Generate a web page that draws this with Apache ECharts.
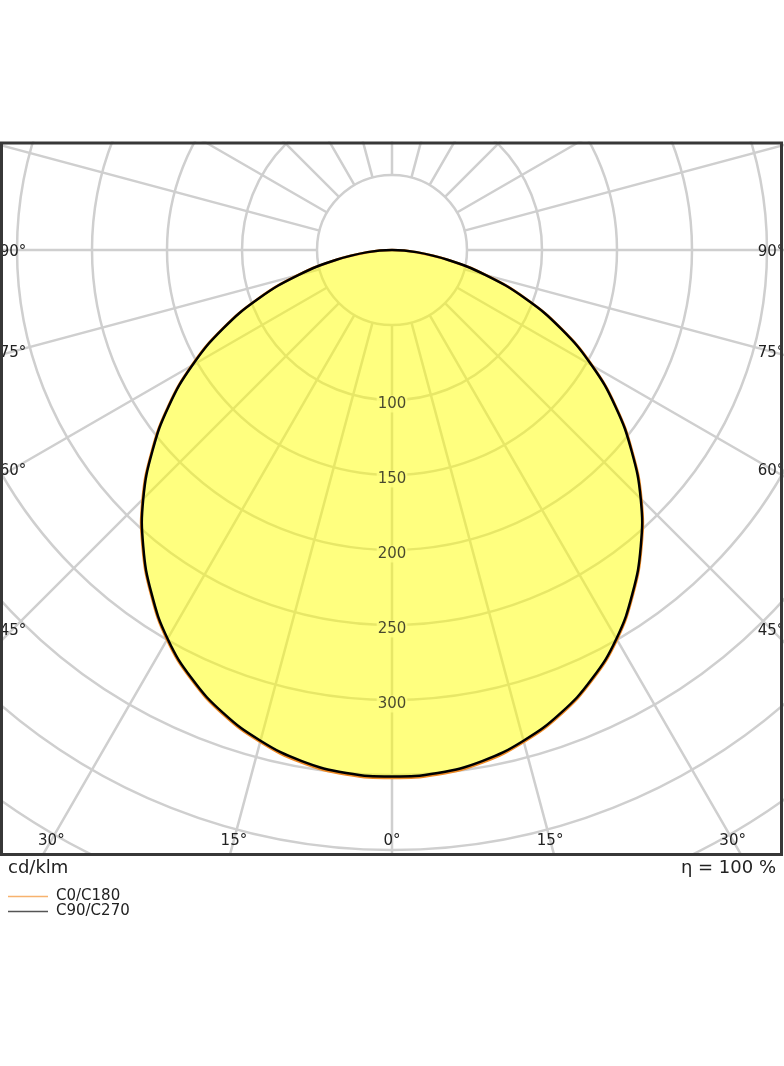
<!DOCTYPE html>
<html>
<head>
<meta charset="utf-8">
<script src="https://cdn.jsdelivr.net/npm/echarts@6/dist/echarts.min.js"></script>
<style>
html,body{margin:0;padding:0;background:#fff;}
#chart{width:784px;height:1066px;}
</style>
</head>
<body>
<div id="chart"></div>
<script>
// ---- data (cd/klm) ----
var gammaAngles = [0,5,10,15,20,25,30,35,40,45,50,55,60,65,70,75,80,85,90];
var c0c180  = [352,351,347,339.5,329.4,316.2,300,280.2,258.7,235.2,209.2,182.4,154.3,125,95,65,38,16.5,0];
var c90c270 = [351,350,346,338.7,328.6,315.4,299.2,279.5,258,234.5,208.5,181.8,153.7,124.5,94.6,64.7,37.6,16.3,0];
var ringLabels = [100,150,200,250,300];
var sideAngleLabels = [90,75,60,45];
var bottomAngleLabels = [30,15,0];
var seriesNames = ['C0/C180','C90/C270'];
var unitText = 'cd/klm';
var effText = '\u03b7 = 100 %';

var CX = 392, CY = 250, PX_PER_UNIT = 1.5, RMAX = 500;
var FONT = 'DejaVu Sans';

// full curve (-90..90) as [radius, angle] pairs; 90 deg (r = 0) only once
function toPolarData(vals){
  var out = [];
  for (var i = gammaAngles.length-2; i > 0; i--) out.push([vals[i], 360 - gammaAngles[i]]);
  for (var j = 0; j < gammaAngles.length; j++) out.push([vals[j], gammaAngles[j]]);
  return out;
}

function curveRenderer(vals, style){
  var pts = toPolarData(vals);
  return function(params, api){
    if (params.dataIndex !== 0) return null;
    var px = pts.map(function(p){ return api.coord(p); });
    return {type:'polygon', shape:{points:px, smooth:0.45}, style:style};
  };
}

var chart = echarts.init(document.getElementById('chart'), null, {renderer:'canvas'});

var graphics = [
  {type:'rect', z:50, shape:{x:0,y:0,width:784,height:141.5}, style:{fill:'#fff'}, silent:true},
  {type:'rect', z:50, shape:{x:0,y:856,width:784,height:210}, style:{fill:'#fff'}, silent:true},
  {type:'rect', z:60, shape:{x:1.5,y:143,width:780,height:711.5}, style:{fill:null, stroke:'#383838', lineWidth:3}, silent:true},
  {type:'text', z:55, left:8, top:859, style:{text:unitText, font:'18px "'+FONT+'"', fill:'#222'}},
  {type:'text', z:55, right:8, top:859, style:{text:effText, font:'18px "'+FONT+'"', fill:'#222'}}
];
// angle labels along the frame (where spokes meet the frame)
sideAngleLabels.forEach(function(a){
  var dy = a === 90 ? 0 : 379 / Math.tan(a*Math.PI/180);
  [-1,1].forEach(function(s){
    graphics.push({type:'text', z:55, x: CX + s*379, y: CY + dy + 2,
      style:{text:a+'\u00b0', font:'15px "'+FONT+'"', fill:'#222', textAlign:'center', textVerticalAlign:'middle'}});
  });
});
bottomAngleLabels.forEach(function(a){
  var dx = 590 * Math.tan(a*Math.PI/180);
  (a === 0 ? [1] : [-1,1]).forEach(function(s){
    graphics.push({type:'text', z:55, x: CX + s*dx, y: 841,
      style:{text:a+'\u00b0', font:'15px "'+FONT+'"', fill:'#222', textAlign:'center', textVerticalAlign:'middle'}});
  });
});

var option = {
  animation:false,
  backgroundColor:'#fff',
  polar:[
    {center:[CX,CY], radius:[75, RMAX*PX_PER_UNIT]},
    {center:[CX,CY], radius:[0, RMAX*PX_PER_UNIT]}
  ],
  angleAxis:[
    {polarIndex:0, type:'value', min:0, max:360, interval:15, startAngle:270, clockwise:true,
     axisLine:{show:false}, axisTick:{show:false}, axisLabel:{show:false},
     splitLine:{show:true, lineStyle:{color:'#cfcfcf', width:2.5}}},
    {polarIndex:1, type:'value', min:0, max:360, interval:15, startAngle:270, clockwise:true,
     axisLine:{show:false}, axisTick:{show:false}, axisLabel:{show:false}, splitLine:{show:false}}
  ],
  radiusAxis:[
    {polarIndex:0, type:'value', min:50, max:RMAX, interval:50,
     axisLine:{show:false}, axisTick:{show:false}, axisLabel:{show:false},
     splitLine:{show:true, lineStyle:{color:'#cfcfcf', width:2.5}}},
    {polarIndex:1, type:'value', min:0, max:RMAX, interval:50,
     axisLine:{show:false}, axisTick:{show:false}, axisLabel:{show:false}, splitLine:{show:false}}
  ],
  legend:{
    orient:'vertical', left:8, top:889, z:60, padding:0, itemGap:0, itemWidth:40, itemHeight:1.5, icon:'rect',
    textStyle:{fontFamily:FONT, fontSize:15, color:'#222', lineHeight:15, padding:[0,0,0,3]},
    data:[
      {name:seriesNames[0], itemStyle:{color:'#f7b26e'}},
      {name:seriesNames[1], itemStyle:{color:'#555'}}
    ]
  },
  series:[
    {name:seriesNames[0], type:'custom', coordinateSystem:'polar', polarIndex:1, z:3,
     encode:{radius:0, angle:1},
     data:toPolarData(c0c180), itemStyle:{color:'#f7b26e'},
     renderItem:curveRenderer(c0c180, {fill:'rgba(255,255,0,0.5)', stroke:'#f08a24', lineWidth:2.5})},
    {name:seriesNames[1], type:'custom', coordinateSystem:'polar', polarIndex:1, z:4,
     encode:{radius:0, angle:1},
     data:toPolarData(c90c270), itemStyle:{color:'#555'},
     renderItem:curveRenderer(c90c270, {fill:null, stroke:'#000', lineWidth:2.5})},
    {name:'ringLabels', type:'scatter', coordinateSystem:'polar', polarIndex:1, z:10,
     data:ringLabels.map(function(v){ return [v, 0]; }),
     symbolSize:1, itemStyle:{color:'rgba(0,0,0,0)'}, silent:true,
     label:{show:true, position:'inside', offset:[0,4],
       formatter:function(p){ return String(p.value[0]); },
       fontFamily:FONT, fontSize:15, color:'#1a1a1a', textBorderWidth:0,
       backgroundColor:'#ffff80', padding:[1,1]}}
  ],
  graphic:graphics
};
chart.setOption(option);
</script>
</body>
</html>
